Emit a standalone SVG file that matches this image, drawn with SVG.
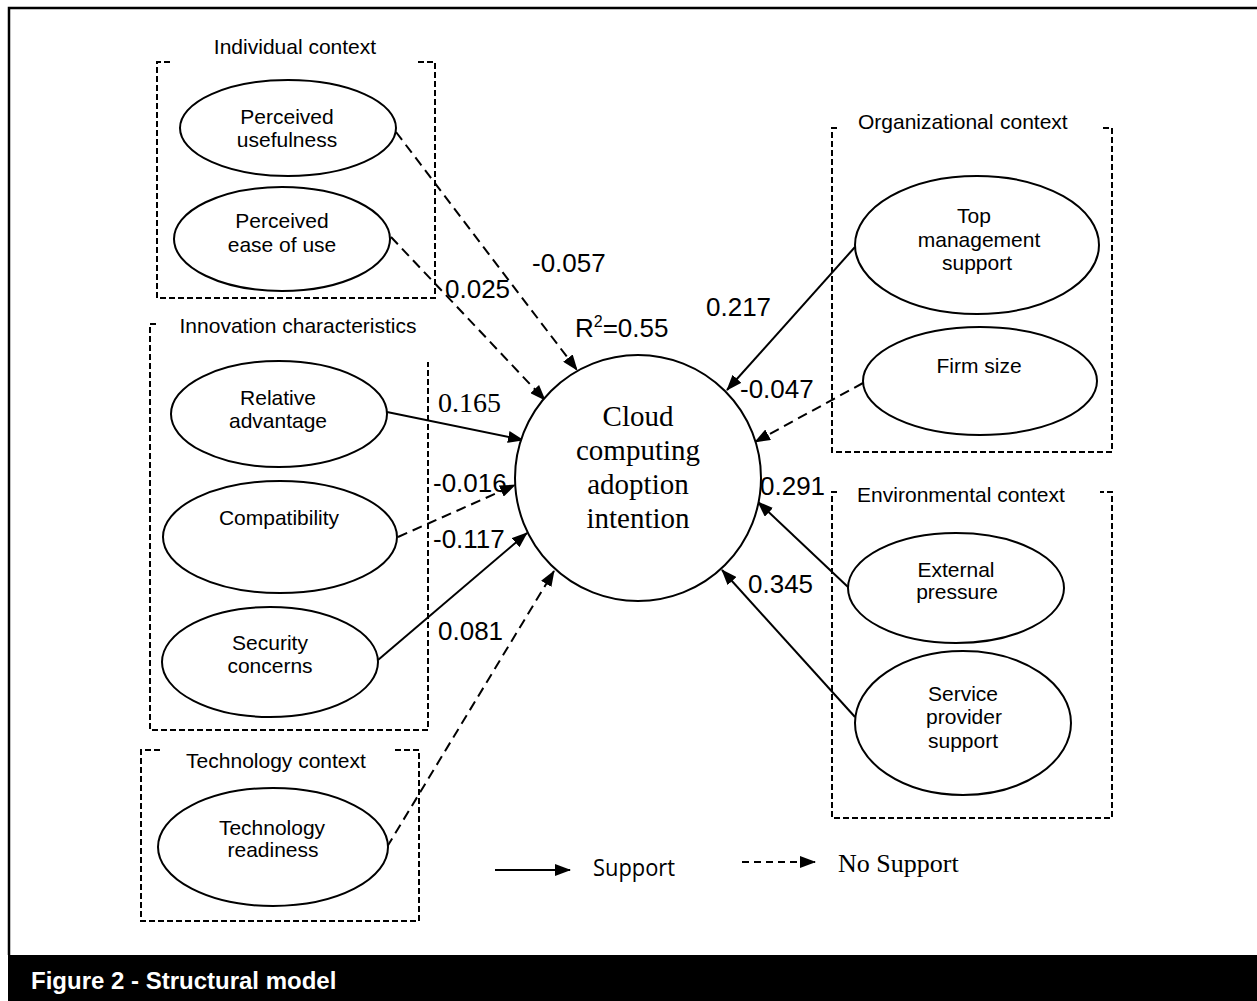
<svg xmlns="http://www.w3.org/2000/svg" width="1257" height="1001" viewBox="0 0 1257 1001">
<style>
.box{fill:none;stroke:#000;stroke-width:2;stroke-dasharray:6 3}
.node ellipse,.node circle{fill:#fff;stroke:#000;stroke-width:2}
.lbl{font-family:"Liberation Sans",Arial,sans-serif;font-size:21px;text-anchor:middle;fill:#000}
.grp{font-family:"Liberation Sans",Arial,sans-serif;font-size:21px;fill:#000}
.val{font-family:"Liberation Sans",Arial,sans-serif;font-size:26px;fill:#000}
.serif{font-family:"Liberation Serif","Times New Roman",serif;fill:#000}
.c{fill:none;stroke:#000;stroke-width:2;marker-end:url(#ah)}
.d{stroke-dasharray:10 6}
</style>
<defs>
<marker id="ah" markerUnits="userSpaceOnUse" markerWidth="16" markerHeight="12" refX="15" refY="6" orient="auto" viewBox="0 0 16 12">
<path d="M0,0 L16,6 L0,12 z" fill="#000"/>
</marker>
</defs>
<rect x="0" y="0" width="1257" height="1001" fill="#fff"/>
<path d="M9,955 V8 H1257" fill="none" stroke="#000" stroke-width="2.5"/>
<rect x="8" y="955" width="1249" height="46" fill="#000"/>
<text x="31" y="989" font-family="'Liberation Sans',Arial,sans-serif" font-size="24" font-weight="bold" fill="#fff">Figure 2 - Structural model</text>

<g id="groups">
<path class="box" d="M170,62 H157 V298 H435 V62 H418"/>
<text class="grp" x="295" y="54" text-anchor="middle">Individual context</text>
<path class="box" d="M156,324 H150 V730 H428 V362"/>
<text class="grp" x="298" y="333" text-anchor="middle">Innovation characteristics</text>
<path class="box" d="M160,750 H141 V921 H419 V750 H395"/>
<text class="grp" x="276" y="768" text-anchor="middle">Technology context</text>
<path class="box" d="M837,128 H832 V452 H1112 V128 H1103"/>
<text class="grp" x="858" y="129">Organizational<tspan x="1000">context</tspan></text>
<path class="box" d="M837,492 H832 V818 H1112 V492 H1100"/>
<text class="grp" x="961" y="502" text-anchor="middle">Environmental context</text>
</g>

<g id="connectors">
<line class="c d" x1="396" y1="132" x2="577" y2="370"/>
<line class="c d" x1="391" y1="237" x2="545" y2="400"/>
<line class="c" x1="387" y1="412" x2="523" y2="440"/>
<line class="c d" x1="398" y1="537" x2="515" y2="485"/>
<line class="c" x1="378" y1="660" x2="527" y2="533"/>
<line class="c d" x1="387" y1="847" x2="554" y2="571"/>
<line class="c" x1="855" y1="247" x2="727" y2="390"/>
<line class="c d" x1="863" y1="383" x2="755" y2="442"/>
<line class="c" x1="848" y1="587" x2="758" y2="502"/>
<line class="c" x1="855" y1="717" x2="722" y2="570"/>
</g>

<g id="edge-labels">
<text class="val" x="532" y="272">-0.057</text>
<text class="val" x="445" y="298">0.025</text>
<text class="val" x="575" y="337">R<tspan font-size="16" dy="-10">2</tspan><tspan dy="10">=0.55</tspan></text>
<text class="val" x="706" y="316">0.217</text>
<text class="serif" x="438" y="412" font-size="28">0.165</text>
<text class="val" x="740" y="398">-0.047</text>
<text class="val" x="433" y="492">-0.016</text>
<text class="val" x="433" y="548">-0.117</text>
<text class="val" x="760" y="495">0.291</text>
<text class="val" x="748" y="593">0.345</text>
<text class="val" x="438" y="640">0.081</text>
</g>

<g id="n-pu" class="node"><ellipse cx="288" cy="128" rx="108" ry="48"/>
<text class="lbl" x="287" y="124">Perceived</text><text class="lbl" x="287" y="147">usefulness</text></g>
<g id="n-peou" class="node"><ellipse cx="282" cy="239" rx="108" ry="52"/>
<text class="lbl" x="282" y="228">Perceived</text><text class="lbl" x="282" y="252">ease of use</text></g>
<g id="n-ra" class="node"><ellipse cx="279" cy="414" rx="108" ry="53"/>
<text class="lbl" x="278" y="405">Relative</text><text class="lbl" x="278" y="428">advantage</text></g>
<g id="n-comp" class="node"><ellipse cx="280" cy="537" rx="117" ry="56"/>
<text class="lbl" x="279" y="525">Compatibility</text></g>
<g id="n-sc" class="node"><ellipse cx="270" cy="662" rx="108" ry="55"/>
<text class="lbl" x="270" y="650">Security</text><text class="lbl" x="270" y="673">concerns</text></g>
<g id="n-tr" class="node"><ellipse cx="273" cy="847" rx="115" ry="59"/>
<text class="lbl" x="272" y="835">Technology</text><text class="lbl" x="273" y="857">readiness</text></g>
<g id="n-tms" class="node"><ellipse cx="977" cy="245" rx="122" ry="69"/>
<text class="lbl" x="974" y="223">Top</text><text class="lbl" x="979" y="247">management</text><text class="lbl" x="977" y="270">support</text></g>
<g id="n-fs" class="node"><ellipse cx="980" cy="381" rx="117" ry="54"/>
<text class="lbl" x="979" y="373">Firm size</text></g>
<g id="n-ep" class="node"><ellipse cx="956" cy="588" rx="108" ry="55"/>
<text class="lbl" x="956" y="577">External</text><text class="lbl" x="957" y="599">pressure</text></g>
<g id="n-sps" class="node"><ellipse cx="963" cy="723" rx="108" ry="72"/>
<text class="lbl" x="963" y="701">Service</text><text class="lbl" x="964" y="724">provider</text><text class="lbl" x="963" y="748">support</text></g>
<g id="n-cca" class="node"><circle cx="638" cy="478" r="123"/>
<text class="serif" x="638" y="426" font-size="29" text-anchor="middle">Cloud</text>
<text class="serif" x="638" y="460" font-size="29" text-anchor="middle">computing</text>
<text class="serif" x="638" y="494" font-size="29" text-anchor="middle">adoption</text>
<text class="serif" x="638" y="528" font-size="29" text-anchor="middle">intention</text></g>

<g id="legend">
<line class="c" x1="495" y1="870" x2="570" y2="870"/>
<text x="593" y="876" font-family="'Open Sans',sans-serif" font-size="23" textLength="82" lengthAdjust="spacingAndGlyphs">Support</text>
<line class="c d" x1="742" y1="862" x2="815" y2="862" style="stroke-dasharray:7 5"/>
<text class="serif" x="838" y="872" font-size="26">No Support</text>
</g>
</svg>
